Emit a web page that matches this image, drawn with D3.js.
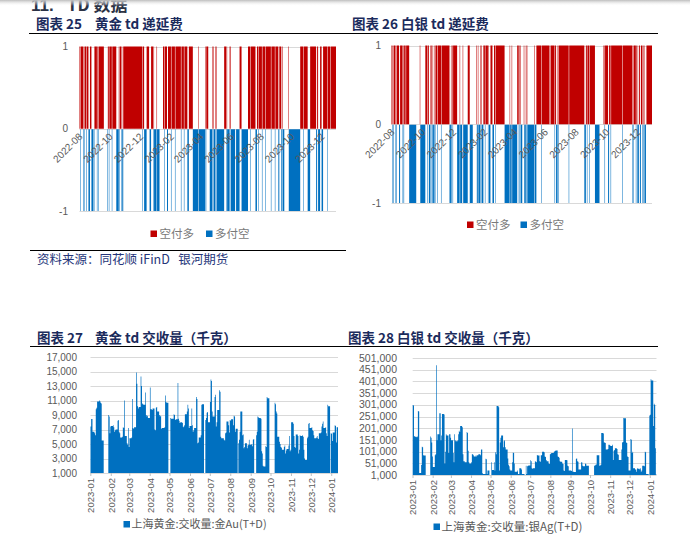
<!DOCTYPE html>
<html><head><meta charset="utf-8">
<script src="https://cdn.jsdelivr.net/npm/d3@7"></script>
<style>
html,body{margin:0;padding:0;background:#fff;}
svg{display:block;}
.lat{font-family:"Liberation Sans",Arial,sans-serif;}
.cjk{font-family:"Noto Sans CJK SC","Noto Sans",sans-serif;}
</style></head><body>
<svg id="c" width="690" height="536"></svg>
<script>
// ---------------- DATA ----------------
const holidays = ["2022-09-12","2022-10-03","2022-10-04","2022-10-05","2022-10-06","2022-10-07",
 "2023-01-02","2023-01-23","2023-01-24","2023-01-25","2023-01-26","2023-01-27","2023-04-05",
 "2023-05-01","2023-05-02","2023-05-03","2023-06-22","2023-06-23","2023-09-29",
 "2023-10-02","2023-10-03","2023-10-04","2023-10-05","2023-10-06","2024-01-01"];

const deferralStart = "2022-08-15", deferralEnd = "2024-01-12";
const volumeStart = "2023-01-03", volumeEnd = "2024-01-12";

// R = 空付多 (+1), B = 多付空 (-1); one letter per trading day, grouped by month
const goldDeferral = [
 "RRBRRRBBRRBRR",
 "RBRRRBBBRRRBRRBRRRRRR",
 "BRRBRRRBRRRRRRBB",
 "BRBRBRBBRRRRRRRRRRRRRR",
 "RRRRRRRRRRRRBRRRBBBRRR",
 "BBBRRBRBBBRBBBRR",
 "BRRRBBRRRRBRRRRRBRRR",
 "RRRRBRRRBRRRRBBBRRRRRRB",
 "BBBBBRBBBBBBBBBRBRR",
 "BBBRBRBRBRBBBBBBBBBB",
 "BRRBRBBBRRBBBBBBBBBB",
 "RRRRBBBBBBBBBRRRBRRRR",
 "RRRBRRRBRRRRBRRRRBRRRRR",
 "RBRRRRRBRRRRBBRRBBRB",
 "RBBBBBBBBBBBBBBBB",
 "BRRRRBRRRRRRBBBRRRRRRR",
 "RBBRRBBRRRBRRRRRRBRRR",
 "RRRRRRRRR"];
const silverDeferral = [
 "RRBBRRBBRRRBB",
 "RRRBRBRRRRRBBBBBBBBBB",
 "RBBBBBBBBRRBRRBR",
 "BRRBRBBRRBRRRRBRRRRRRR",
 "RRRRBRBRRBRRRRRRBBBRBB",
 "RBBBBBBBRRBBBBRB",
 "BRBBRBRBRRRBRRRBRBRR",
 "RRBRRBRRRRRRRRRRRRBBBBB",
 "BBRBRBBBBBBBBRBRBRB",
 "RBRBRBBBBBBBBBBRBRRR",
 "RRRRRBRRRRRRRRRRRRRR",
 "RBRRBRBRRRRRRRRRRRRRR",
 "BRRRRRRRRRRRRRRRRRRRRRR",
 "BRRBRRBRRRRRRRRBBBBB",
 "RRBRRRRBBRBRRRRRR",
 "RRRRRRRRRRBRRRRRRRRRRR",
 "RRBRBRRBRRBRRBBRBRBRB",
 "RRRRRRRRR"];

// 黄金 td 交收量 (千克), one value per trading day
const goldVolume = [
 // 2023-01
 7400,8450,8450,6700,6500,6200,9800,10000,10850,11000,10900,10700,10600,5500,9000,8800,
 // 2023-02
 6500,7400,7500,7600,7300,6700,6900,7000,8200,8300,6700,6500,5900,6000,7300,7200,11000,6100,5100,4900,
 // 2023-03
 7200,4600,5800,5900,11200,7200,7100,7300,14850,13300,10200,9900,10100,14300,13000,10600,10500,10400,12100,9000,8800,8900,8600,
 // 2023-04
 12800,9800,9700,9900,7000,6900,10000,10100,9500,9000,8800,8900,7100,7200,7200,7300,11700,10800,10700,
 // 2023-05
 8600,8500,8500,9100,9000,8300,8400,13400,8500,8200,7900,8000,7900,7300,7400,7600,9100,9500,10400,9900,
 // 2023-06
 7200,7500,9900,7600,6700,6900,7200,11500,11200,5100,5200,5900,6200,10400,10500,8300,8600,9300,9400,8000,
 // 2023-07
 10800,13900,13700,9500,8800,11500,11800,7400,8000,9700,12400,12200,6000,5800,5800,5600,5500,6500,6600,8100,7600,
 // 2023-08
 6600,8300,8200,8400,7600,8900,8800,6700,7100,1000,5100,5600,6700,9500,6200,6300,4400,4600,5100,4400,4800,4900,5600,
 // 2023-09
 4900,5000,4700,5600,5700,1000,6200,6700,8800,8700,8600,8500,4000,3700,2000,1900,4700,4600,11500,11300,
 // 2023-10
 10700,10500,9500,9200,6000,5300,5000,4600,4500,4200,4600,4800,3700,4100,4300,4800,6100,
 // 2023-11
 4000,4200,8000,7800,6100,4600,4500,6300,6100,3700,4200,6200,6100,6200,6000,4200,3000,2800,5800,6000,7800,7900,
 // 2023-12
 7200,7300,6900,6800,6200,5800,5900,6100,5800,5700,6500,6600,7400,7800,8100,7200,7300,6500,6100,10400,10200,
 // 2024-01
 6500,6400,5400,6600,7600,7500,5200,7300,7300];

// 白银 td 交收量 (千克, in thousands), one value per trading day
const silverVolumeK = [
 // 2023-01
 300,298,168,164,162,165,274,272,10,44,122,120,85,84,165,160,
 // 2023-02
 140,80,35,85,90,470,150,175,265,265,150,170,262,260,50,100,175,170,95,175,
 // 2023-03
 175,160,150,95,55,175,150,145,150,175,190,185,210,205,90,60,60,55,185,180,105,55,50,
 // 2023-04
 55,90,85,80,85,80,85,85,90,85,110,110,8,5,5,70,68,5,20,
 // 2023-05
 55,22,55,20,98,90,296,290,20,140,160,170,120,145,150,120,110,72,45,38,
 // 2023-06
 25,20,55,97,95,50,15,15,20,5,5,30,25,5,5,40,5,38,40,42,
 // 2023-07
 64,60,30,28,30,60,58,55,86,84,60,58,85,85,100,98,80,78,65,60,50,
 // 2023-08
 48,90,92,95,95,100,102,105,106,80,78,75,60,58,50,48,20,18,65,64,40,38,20,
 // 2023-09
 20,18,200,15,15,14,70,72,60,58,25,25,55,54,40,38,50,48,40,40,
 // 2023-10
 40,42,45,46,85,85,40,42,45,180,178,140,140,138,110,112,130,
 // 2023-11
 130,128,125,130,65,105,108,115,112,90,88,65,65,110,140,142,245,244,140,138,80,78,
 // 2023-12
 20,155,152,95,100,30,25,24,15,30,28,25,30,15,20,40,38,100,98,5,5,
 // 2024-01
 255,258,410,405,210,305,300,115,3];

const deferralTickLabels = ["2022-08","2022-10","2022-12","2023-02","2023-04","2023-06","2023-08","2023-10","2023-12"];
const volumeTickLabels = ["2023-01","2023-02","2023-03","2023-04","2023-05","2023-06","2023-07","2023-08","2023-09","2023-10","2023-11","2023-12","2024-01"];
const deferralYTicks = [1, 0, -1];
const goldVolYTicks = [1000,3000,5000,7000,9000,11000,13000,15000,17000];
const silverVolYTicks = [1000,51000,101000,151000,201000,251000,301000,351000,401000,451000,501000];
const legendDeferral = ["空付多","多付空"];
const legendGoldVol = "上海黄金:交收量:金Au(T+D)";
const legendSilverVol = "上海黄金:交收量:银Ag(T+D)";

// ---------------- HELPERS ----------------
const RED = "#c00000", BLUE = "#0070c0", GRID = "#d9d9d9", AX = "#595959";
const DAY = 86400000;
const parse = d3.timeParse("%Y-%m-%d"), fmt = d3.timeFormat("%Y-%m-%d");
const hol = new Set(holidays);
function tradingDays(s, e) {
  const out = []; const end = parse(e);
  for (let d = parse(s); d <= end; d = d3.timeDay.offset(d, 1)) {
    const wd = d.getDay();
    if (wd === 0 || wd === 6 || hol.has(fmt(d))) continue;
    out.push(d);
  }
  return out;
}
function daySpans(dates, x) {
  return dates.map((d, i) => {
    const next = i < dates.length - 1 ? dates[i + 1] : d3.timeDay.offset(d, 1);
    const cap = d3.timeDay.offset(d, 3);
    const end = next < cap ? next : cap;
    return [x(new Date(+d - DAY / 2)), x(new Date(+end - DAY / 2))];
  });
}
// several rectangles merged into one path, so no anti-alias seams between neighbours
function rectsPath(list) {
  const p = d3.path();
  list.forEach(r => { p.rect(r.x, r.y, r.w, r.h); });
  return p.toString();
}

const svg = d3.select("#c");
const defs = svg.append("defs");
const grad = defs.append("linearGradient").attr("id","topg").attr("x1",0).attr("x2",0).attr("y1",0).attr("y2",1);
grad.append("stop").attr("offset","0%").attr("stop-color","#bdbdbd");
grad.append("stop").attr("offset","100%").attr("stop-color","#ffffff").attr("stop-opacity",0);

// section heading (cut at the top edge as in the page)
svg.append("text").attr("class","lat").attr("x",31).attr("y",11).attr("font-size",17).attr("font-weight","bold").attr("fill","#2b3245").text("11.");
svg.append("text").attr("class","cjk").attr("x",67).attr("y",11).attr("font-size",17).attr("font-weight","bold").attr("fill","#2b3245").text("TD 数据");
svg.append("rect").attr("x",0).attr("y",0).attr("width",690).attr("height",6).attr("fill","url(#topg)");

function title(x1, t1, x2, t2, y) {
  const g = svg.append("g").attr("class","cjk").attr("font-size",13.5).attr("font-weight","bold").attr("fill","#1b2b5c");
  g.append("text").attr("x",x1).attr("y",y).text(t1);
  if (t2) g.append("text").attr("x",x2).attr("y",y).text(t2);
}
title(36,"图表 25",95,"黄金 td 递延费",29);
title(352,"图表 26 白银 td 递延费",null,null,29);
title(37,"图表 27",95,"黄金 td 交收量（千克）",343);
title(348,"图表 28 白银 td 交收量（千克）",null,null,343);
svg.append("line").attr("x1",29).attr("x2",658).attr("y1",33.5).attr("y2",33.5).attr("stroke","#000");
svg.append("line").attr("x1",30).attr("x2",658).attr("y1",346.5).attr("y2",346.5).attr("stroke","#000");
svg.append("line").attr("x1",30).attr("x2",346).attr("y1",250.5).attr("y2",250.5).attr("stroke","#000");
svg.append("text").attr("class","cjk").attr("x",37).attr("y",264).attr("font-size",12.5).attr("fill","#26367a")
  .style("white-space","pre").text("资料来源：同花顺 iFinD   银河期货");

// ---------------- DEFERRAL CHARTS ----------------
const defDates = tradingDays(deferralStart, deferralEnd);
function drawDeferral(cfg) {
  const g = svg.append("g");
  const x = d3.scaleTime().domain([new Date(+defDates[0] - DAY/2), new Date(+defDates[defDates.length-1] + DAY/2)]).range([cfg.left, cfg.right]);
  const y = d3.scaleLinear().domain([-1, 1]).range([cfg.yBot, cfg.yTop]);
  g.selectAll(null).data(deferralYTicks).join("line")
    .attr("x1",cfg.left).attr("x2",cfg.right).attr("y1",d=>Math.round(y(d))+0.5).attr("y2",d=>Math.round(y(d))+0.5).attr("stroke",GRID);
  const vals = cfg.pattern.join("").split("");
  const spans = daySpans(defDates, x);
  const red = [], blue = [];
  spans.forEach((s, i) => {
    const v = vals[i]; if (!v || v === "0") return;
    const w = s[1] - s[0];
    if (v === "R") red.push({x: s[0], w, y: y(1), h: y(0) - y(1)});
    else blue.push({x: s[0], w, y: y(0) + 0.5, h: y(-1) - y(0) - 0.5});
  });
  g.append("path").attr("d", rectsPath(red)).attr("fill", RED);
  g.append("path").attr("d", rectsPath(blue)).attr("fill", BLUE);
  g.selectAll(null).data(deferralYTicks).join("text").attr("class","lat")
    .attr("x",cfg.labelX).attr("y",d=>y(d)).attr("dy","0.35em").attr("text-anchor","end")
    .attr("font-size",10).attr("fill",AX).text(d=>d);
  g.selectAll(null).data(deferralTickLabels).join("text").attr("class","lat")
    .attr("transform",d=>`translate(${x(parse(d+"-15"))+1},${y(0)+6}) rotate(-45)`)
    .attr("text-anchor","end").attr("dy","0.35em").attr("font-size",10).attr("fill",AX).text(d=>d);
  const lg = g.append("g").attr("class","cjk").attr("font-size",11.5).attr("fill","#7a7a7a");
  [[RED,cfg.legX],[BLUE,cfg.legX+cfg.legGap]].forEach(([c,lx],i)=>{
    lg.append("rect").attr("x",lx).attr("y",cfg.legY-6.5).attr("width",6.5).attr("height",6.5).attr("fill",c);
    lg.append("text").attr("x",lx+9).attr("y",cfg.legY+0.5).text(legendDeferral[i]);
  });
}
drawDeferral({pattern: goldDeferral, left: 79.5, right: 336, yTop: 46.5, yBot: 211, labelX: 68, legX: 150.5, legGap: 55.5, legY: 237});
drawDeferral({pattern: silverDeferral, left: 391.5, right: 652, yTop: 45.5, yBot: 203, labelX: 381, legX: 467, legGap: 53.5, legY: 228});

// ---------------- VOLUME CHARTS ----------------
const volDates = tradingDays(volumeStart, volumeEnd);
function drawVolume(cfg) {
  const g = svg.append("g");
  const x = d3.scaleTime().domain([new Date(+volDates[0] - DAY/2), new Date(+volDates[volDates.length-1] + DAY/2)]).range([cfg.left, cfg.right]);
  const y = d3.scaleLinear().domain([cfg.ticks[0], cfg.ticks[cfg.ticks.length-1]]).range([cfg.yBot, cfg.yTop]);
  g.selectAll(null).data(cfg.ticks).join("line")
    .attr("x1",cfg.left).attr("x2",cfg.right).attr("y1",d=>Math.round(y(d))+0.5).attr("y2",d=>Math.round(y(d))+0.5).attr("stroke",GRID);
  const spans = daySpans(volDates, x);
  const base = cfg.ticks[0];
  const bars = cfg.values.map((v, i) => ({v, s: spans[i]})).filter(d => d.s && d.v > base)
    .map(d => ({x: d.s[0], w: d.s[1] - d.s[0], y: y(d.v), h: y(base) - y(d.v)}));
  g.append("path").attr("d", rectsPath(bars)).attr("fill", BLUE);
  g.selectAll(null).data(cfg.ticks).join("text").attr("class","lat")
    .attr("x",cfg.labelX).attr("y",d=>y(d)).attr("dy","0.35em").attr("text-anchor","end")
    .attr("font-size",cfg.fs).attr("fill",AX).text(d=>d3.format(",")(d));
  const tickDates = volumeTickLabels.map(l => parse(l + "-03"));
  g.selectAll(null).data(tickDates).join("line")
    .attr("x1",d=>x(d)).attr("x2",d=>x(d)).attr("y1",cfg.yBot).attr("y2",cfg.yBot+3).attr("stroke","#bfbfbf");
  g.selectAll(null).data(volumeTickLabels).join("text").attr("class","lat")
    .attr("transform",(d,i)=>`translate(${x(tickDates[i])},${cfg.yBot+5}) rotate(-90)`)
    .attr("text-anchor","end").attr("dy","0.35em").attr("font-size",9.5).attr("fill",AX).text(d=>d);
  g.append("rect").attr("x",cfg.legX).attr("y",cfg.legY-6.5).attr("width",6.5).attr("height",6.5).attr("fill",BLUE);
  g.append("text").attr("class","cjk").attr("x",cfg.legX+8).attr("y",cfg.legY+0.5).attr("font-size",cfg.legFs).attr("fill",AX).text(cfg.legend);
}
drawVolume({values: goldVolume, ticks: goldVolYTicks, left: 90.5, right: 338, yBot: 473, yTop: 357, labelX: 77, fs: 10,
  legX: 123.5, legY: 527.5, legFs: 11, legend: legendGoldVol});
drawVolume({values: silverVolumeK.map(v => v * 1000), ticks: silverVolYTicks, left: 412.7, right: 656.5, yBot: 475, yTop: 358, labelX: 397, fs: 10.5,
  legX: 433.5, legY: 530, legFs: 11.5, legend: legendSilverVol});
</script></body></html>
